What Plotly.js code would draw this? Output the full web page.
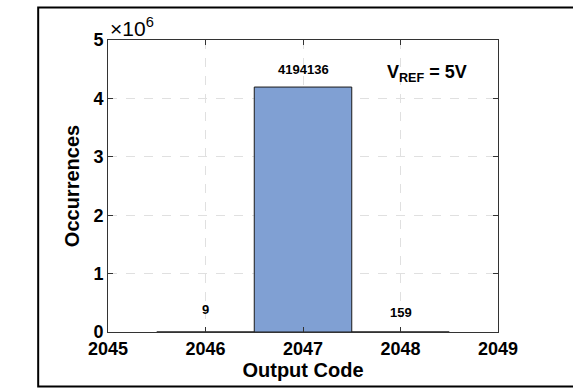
<!DOCTYPE html>
<html>
<head>
<meta charset="utf-8">
<script src="https://cdn.plot.ly/plotly-3.0.1.min.js"></script>
<style>html,body{margin:0;padding:0;background:#fff;}#chart{width:573px;height:388px;}</style>
</head>
<body>
<div id="chart"></div>
<script>
// Data
const codes = [2046, 2047, 2048];
const occurrences = [9, 4194136, 159];
const countLabels = ['9', '4194136', '159'];
const xTicks = [2045, 2046, 2047, 2048, 2049];
const yTickVals = [0, 1e6, 2e6, 3e6, 4e6, 5e6];
const yTickText = ['0', '1', '2', '3', '4', '5'];
const multiplierText = '×10<sup>6</sup>';
const vrefText = 'V<sub>REF</sub> = 5V';

const FONT = 'Liberation Sans, Arial, Helvetica, sans-serif';
const labelShift = [23, 18, 19];

const trace = {
  type: 'bar',
  x: codes,
  y: occurrences,
  width: 1,
  marker: {color: 'rgb(128,160,211)', line: {color: '#1a1a1a', width: 1}},
  hoverinfo: 'skip'
};

const annotations = codes.map((c, i) => ({
  x: c, y: occurrences[i], xref: 'x', yref: 'y',
  text: countLabels[i], showarrow: false, yshift: labelShift[i],
  font: {family: FONT, size: 13, color: '#000', weight: 'bold'}
}));
annotations.push({
  xref: 'paper', yref: 'paper', x: 0.0, y: 1.0, xanchor: 'left', yanchor: 'bottom',
  text: multiplierText, showarrow: false, xshift: 0, yshift: -2,
  font: {family: FONT, size: 21, color: '#000'}
});
annotations.push({
  xref: 'paper', yref: 'paper', x: 0.71, y: 0.885, xanchor: 'left', yanchor: 'middle',
  text: vrefText, showarrow: false,
  font: {family: FONT, size: 18, color: '#000', weight: 'bold'}
});

const layout = {
  width: 573, height: 388,
  margin: {l: 108, r: 75, t: 40, b: 56, pad: 0},
  paper_bgcolor: '#fff', plot_bgcolor: '#fff',
  showlegend: false,
  font: {family: FONT, color: '#000'},
  xaxis: {
    range: [2045, 2049], tickvals: xTicks, ticktext: xTicks.map(String),
    showline: true, linecolor: '#333', linewidth: 1, mirror: 'ticks',
    ticks: 'inside', ticklen: 5, tickcolor: '#333',
    showgrid: true, gridcolor: '#e0e0e0', griddash: 'dash', gridwidth: 1,
    zeroline: false,
    tickfont: {family: FONT, size: 18, weight: 'bold', color: '#000'},
    title: {text: 'Output Code', font: {family: FONT, size: 20, weight: 'bold', color: '#000'}, standoff: 5}
  },
  yaxis: {
    range: [0, 5e6], tickvals: yTickVals, ticktext: yTickText,
    showline: true, linecolor: '#333', linewidth: 1, mirror: 'ticks',
    ticks: 'inside', ticklen: 5, tickcolor: '#333',
    showgrid: true, gridcolor: '#e0e0e0', griddash: 'dash', gridwidth: 1,
    zeroline: false,
    tickfont: {family: FONT, size: 18, weight: 'bold', color: '#000'},
    title: {text: 'Occurrences', font: {family: FONT, size: 20, weight: 'bold', color: '#000'}, standoff: 8}
  },
  annotations: annotations,
  shapes: [{
    type: 'rect', xref: 'paper', yref: 'paper',
    x0: -0.179, x1: 1.3, y0: -0.187, y1: 1.1115,
    line: {color: '#000', width: 2}, fillcolor: 'rgba(0,0,0,0)', layer: 'above'
  }]
};

Plotly.newPlot('chart', [trace], layout, {displayModeBar: false, staticPlot: true});
</script>
</body>
</html>
